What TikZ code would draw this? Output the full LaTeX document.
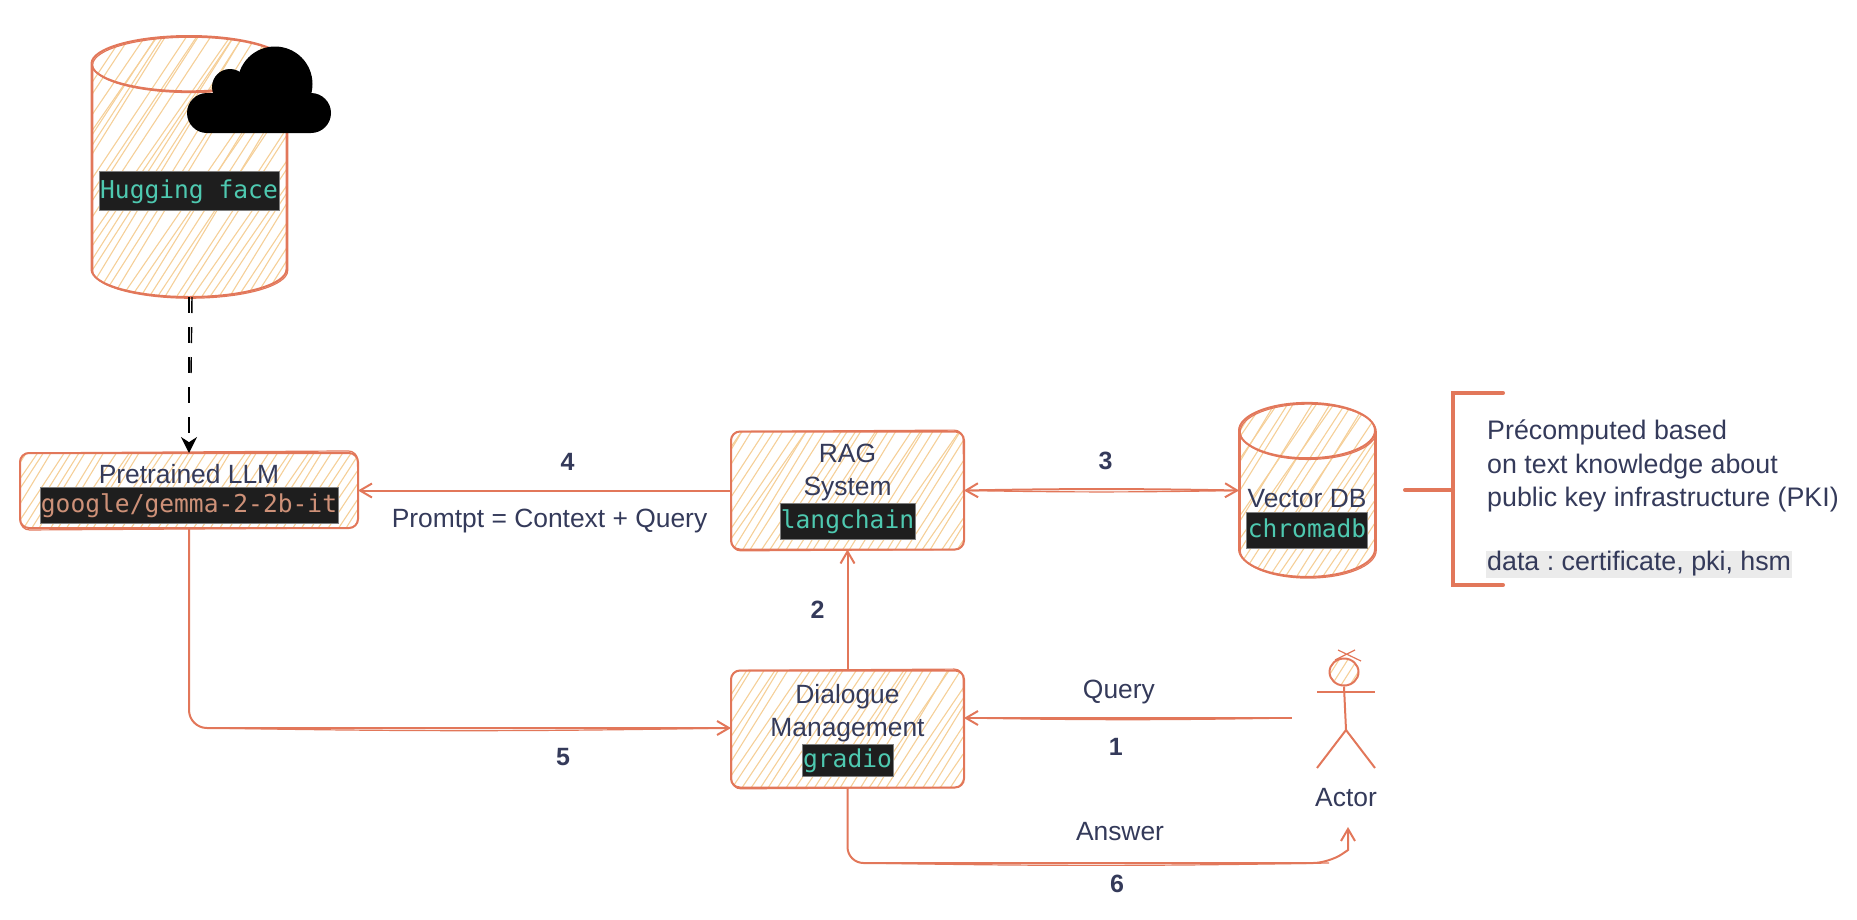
\documentclass[tikz,border=0pt]{standalone}
\usepackage{fontspec}
\setmainfont{Liberation Sans}
\newfontfamily\codefont{DejaVu Sans Mono}
\usetikzlibrary{arrows.meta, positioning, shapes.geometric, calc}
\frenchspacing

\definecolor{sketchred}{HTML}{E2775A}
\definecolor{hatchtan}{HTML}{F5CF98}
\definecolor{inkblue}{HTML}{343A5A}
\definecolor{chipbg}{HTML}{1E1E1E}
\definecolor{chipgreen}{HTML}{4EC9B0}
\definecolor{chiporange}{HTML}{CE9178}

\tikzset{
  hachure/.style={path picture={
    \foreach \i in {-170,-161,...,340}
      \draw[hatchtan, line width=1.1pt] ($(path picture bounding box.south west)+({\i+3*rnd},0)$) -- ++({55+4*rnd}:330pt);
  }},
  sketchbox/.style={rectangle, draw=sketchred, line width=2pt, rounded corners=9pt, outer sep=0pt, hachure},
  sketchdb/.style={cylinder, shape border rotate=90, draw=sketchred, line width=2pt, outer sep=0pt, hachure,
    postaction={draw=sketchred, line width=1.2pt, transform canvas={xshift=1.2pt, yshift=-1.2pt}}},
  twin/.style={draw=sketchred, line width=1.2pt},
  flow/.style={draw=sketchred, line width=2pt, -{Straight Barb[length=12pt, width=14pt, line width=2pt]}},
  flowback/.style={draw=sketchred, line width=1.2pt},
  chip/.style={draw=gray, line width=.6pt, fill=chipbg, text=chipgreen, inner xsep=1pt, inner ysep=5pt, text height=20pt, text depth=6pt, font=\fontsize{24.6pt}{26pt}\codefont},
  caption/.style={text=inkblue, align=center, inner sep=0pt, font=\fontsize{26.4pt}{33pt}\selectfont},
  step number/.style={text=inkblue, inner sep=0pt, font=\fontsize{25pt}{33pt}\selectfont\bfseries},
  figure line/.style={sketchred, line width=2pt},
  dash link/.style={black, line width=2pt, dash pattern=on 16pt off 14pt},
}

\begin{document}
\begin{tikzpicture}[x=1pt, y=-1pt]
    \pgfmathsetseed{7}
    \useasboundingbox (0,0) rectangle (1857,919);

    \node[sketchbox, minimum width=338pt, minimum height=75pt] (pretrained) at (189,490.5) {};
    \node[sketchbox, minimum width=233pt, minimum height=118pt] (rag) [right=373pt of pretrained] {};
    \node[sketchbox, minimum width=233pt, minimum height=117pt] (dialogue) [below=121pt of rag] {};
    \node[sketchdb, minimum width=195pt, minimum height=261pt, shape aspect=8.3] (hugging) [above=156pt of pretrained] {};
    \node[sketchdb, minimum width=136pt, minimum height=174pt, shape aspect=8.3] (vectordb) [right=275pt of rag, yshift=-18pt] {};

    % second pencil stroke round the boxes
    \foreach \n in {pretrained, rag, dialogue}
      \draw[twin, rounded corners=9pt, rotate around={0.35:(\n.center)}] (\n.north west) rectangle (\n.south east);

    \node[chip, text=chiporange, above=4pt of pretrained.south] (pretrainedcode) {google/gemma-2-2b-it};
    \node[caption, above=3pt of pretrainedcode] (pretrainedtext) {Pretrained LLM};
    \node[chip, above=10pt of rag.south] (ragcode) {langchain};
    \node[caption, above=2pt of ragcode] (ragtext) {RAG\\System};
    \node[chip, inner ysep=3pt, above=11pt of dialogue.south] (dialoguecode) {gradio};
    \node[caption, above=2pt of dialoguecode] (dialoguetext) {Dialogue\\Management};
    \node[chip, above=28pt of vectordb.south] (vectorcode) {chromadb};
    \node[caption, above=4pt of vectorcode] (vectortext) {Vector DB};
    \node[chip, inner ysep=6.5pt, above=86pt of hugging.south] (huggingcode) {Hugging face};

    % cloud on the big cylinder
    \fill[black, rounded corners=20pt] (187,93) rectangle (331,133);
    \fill[black] (275,84) circle (37.5);
    \fill[black] (230,87) circle (18);

    % actor
    \node[minimum width=108pt, minimum height=136pt, inner sep=0pt] (actor) at (1346,718) {};
    \node[ellipse, draw=sketchred, line width=2pt, minimum width=29pt, minimum height=27pt, inner sep=0pt, hachure] (actorhead) at (1344,672) {};
    \draw[figure line] (actorhead.south) -- (1346,730) -- (1317,768);
    \draw[figure line] (1346,730) -- (1375,768);
    \draw[figure line] (1317,692) -- (1375,692);
    \draw[sketchred, line width=1.2pt] (1338,650) -- (1361,661) (1355,650) -- (1335,660);
    \node[caption, below=2pt of actor.south] (actortext) {Actor};
    \coordinate (answerturn) at (1329,863);
    \coordinate (answerrise) at (1348,850);
    \coordinate (answertip) at (1348,827);

    \draw[flow] (actor.west) to [edge node={node [caption, above=13pt, xshift=-9pt] {Query} node [step number, below=19pt, xshift=-12pt] {1}}] (dialogue.east |- actor.west);
    \draw[flowback] (actor.west) to [bend left=1] (dialogue.east |- actor.west);
    \draw[flow] (dialogue) to [edge node={node [step number, left=22pt] {2}}] (rag);
    \draw[flow, {Straight Barb[length=12pt, width=14pt, line width=2pt]}-{Straight Barb[length=12pt, width=14pt, line width=2pt]}] (rag.east) to [bend left=1, edge node={node [step number, above=18pt, xshift=4pt] {3}}] (rag.east -| vectordb.west);
    \draw[flowback] (rag.east) to [bend right=1] (rag.east -| vectordb.west);
    \draw[flow] (rag) to [edge node={node [step number, above=19pt, xshift=23pt] {4} node [caption, below=18pt, xshift=5pt] {Promtpt = Context + Query}}] (pretrained);
    \draw[flow, rounded corners=18pt] (pretrained.south) |- (dialogue.west |- 0,728);
    \draw[flowback] ([xshift=18pt]pretrained.south |- 0,728) to [bend right=1] (dialogue.west |- 0,728);
    \node[step number] (five) at (563,757) {5};
    \draw[flow] (dialogue.south) [rounded corners=16pt] |- (answerturn) [sharp corners] -- (answerrise) -- (answertip);
    \draw[flowback] ([xshift=16pt]dialogue.south |- answerturn) to [bend right=1] (answerturn);
    \node[caption] (answertext) at (1120,832) {Answer};
    \node[step number] (six) at (1117,884) {6};

    % dashed link to the model store
    \coordinate (dashend) at (188,376);
    \draw[dash link, -{Stealth[length=16pt, width=16pt]}] (hugging.south) -- (pretrained.north);
    \draw[dash link, line width=1.4pt, transform canvas={xshift=3pt}] (hugging.south) -- (dashend);

    % bracket and note
    \coordinate (brackettop) at (1503,393);
    \coordinate (bracketbottom) at (1503,585);
    \coordinate (bracketstem) at (1405,490);
    \draw[sketchred, line width=4pt, line cap=round] (brackettop) -- (1453,393) -- (1453,585) -- (bracketbottom);
    \draw[sketchred, line width=4pt, line cap=round] (bracketstem) -- (1453,490);
    \node[text=inkblue, align=left, anchor=north west, inner sep=0pt, font=\fontsize{26.8pt}{33.5pt}\selectfont] (notetext) at (1487,420) {Précomputed based\\on text knowledge about\\public key infrastructure (PKI)};
    \node[text=inkblue, fill=black!8, anchor=west, inner sep=1pt, font=\fontsize{26.8pt}{33.5pt}\selectfont] (datatext) at (1486,564) {data : certificate, pki, hsm};
\end{tikzpicture}
\end{document}
